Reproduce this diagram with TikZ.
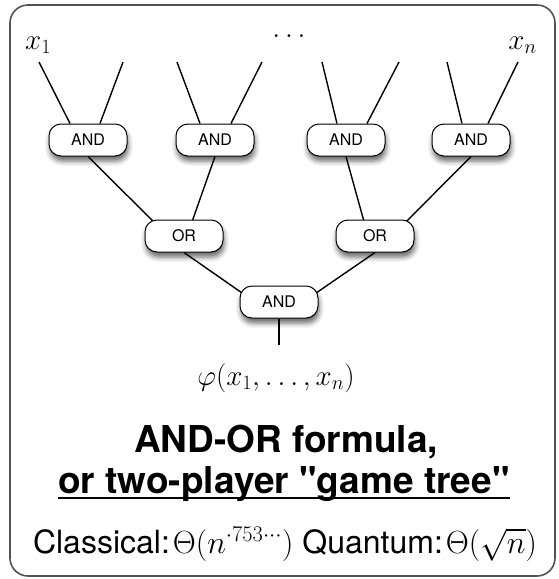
\RequirePackage{fix-cm}
\documentclass[tikz,border=0pt]{standalone}
\usepackage[no-math]{fontspec}
\setmainfont{TeX Gyre Heros}[Ligatures=TeXOff]
\usetikzlibrary{backgrounds,shadows.blur}
\tikzset{
  gate/.style={draw=black, line width=1pt, fill=white, rounded corners=12pt,
    minimum width=78pt, minimum height=32pt, inner sep=0pt,
    font=\fontsize{16}{19}\selectfont,
    blur shadow={shadow xshift=1pt, shadow yshift=-5pt, shadow blur radius=5pt, shadow opacity=60}},
  wire/.style={line width=1.4pt, black},
  mathlbl/.style={inner sep=0pt, font=\fontsize{29}{34}\selectfont},
  frame/.style={line width=1.6pt, draw=black!68, rounded corners=18pt},
  titletext/.style={inner sep=0pt, anchor=base, font=\fontsize{37}{44}\selectfont\bfseries},
}
\begin{document}
\begin{tikzpicture}[x=1pt,y=-1pt]
\useasboundingbox (0,0) rectangle (559,579);
% gates
\node[gate] (a1) at (88,140) {AND};
\node[gate] (a2) at (215,140) {AND};
\node[gate] (a3) at (346,140) {AND};
\node[gate] (a4) at (471,140) {AND};
\node[gate] (o1) at (184,236) {OR};
\node[gate] (o2) at (375,236) {OR};
\node[gate] (r) at (279,302) {AND};
% leaf ends
\coordinate (l1) at (39,62);
\coordinate (l2) at (123,62);
\coordinate (l3) at (177,62);
\coordinate (l4) at (262,62);
\coordinate (l5) at (322,62);
\coordinate (l6) at (399,62);
\coordinate (l7) at (447,62);
\coordinate (l8) at (518,62);
\coordinate (stem) at (279,345);
% labels
\node[mathlbl, anchor=base west] (x1) at (25,49) {$x_1$};
\node[mathlbl, anchor=base east] (xn) at (537,49) {$x_n$};
\node[mathlbl, anchor=base] (dots) at (289,37) {$\ldots$};
\node[mathlbl, anchor=base] (phi) at (276,385) {$\varphi(x_1,\ldots,x_n)$};
\node[titletext] (t1) at (286,452) {AND-OR formula,};
\node[titletext] (t2) at (284,493) {or two-player "game tree"};
\draw[line width=2pt] ([yshift=-5pt]t2.base west) -- ([yshift=-5pt]t2.base east);
\node[inner sep=0pt, anchor=base, font=\fontsize{32}{38}\selectfont] (t3) at (285,553)
  {Classical:\hspace{3pt}$\Theta(n^{\cdot753\cdots})$ Quantum:\hspace{3pt}$\Theta(\sqrt{n})$};
\begin{pgfonlayer}{background}
\draw[frame] (10,5) rectangle (555,576);
\draw[wire] (l1) -- ([xshift=-18pt]a1.north);
\draw[wire] (l2) -- ([xshift=12pt]a1.north);
\draw[wire] (l3) -- ([xshift=-15pt]a2.north);
\draw[wire] (l4) -- ([xshift=16pt]a2.north);
\draw[wire] (l5) -- ([xshift=-9pt]a3.north);
\draw[wire] (l6) -- ([xshift=21pt]a3.north);
\draw[wire] (l7) -- ([xshift=-9pt]a4.north);
\draw[wire] (l8) -- ([xshift=17pt]a4.north);
\draw[wire] (a1.south) -- ([xshift=-16pt]o1.center);
\draw[wire] (a2.south) -- ([xshift=3pt]o1.center);
\draw[wire] (a3.south) -- ([xshift=-7pt]o2.center);
\draw[wire] (a4.south) -- ([xshift=17pt]o2.center);
\draw[wire] (o1.south) -- ([xshift=-24pt]r.center);
\draw[wire] (o2.south) -- ([xshift=24pt]r.center);
\draw[wire] (r.south) -- (stem);
\end{pgfonlayer}
\end{tikzpicture}
\end{document}
